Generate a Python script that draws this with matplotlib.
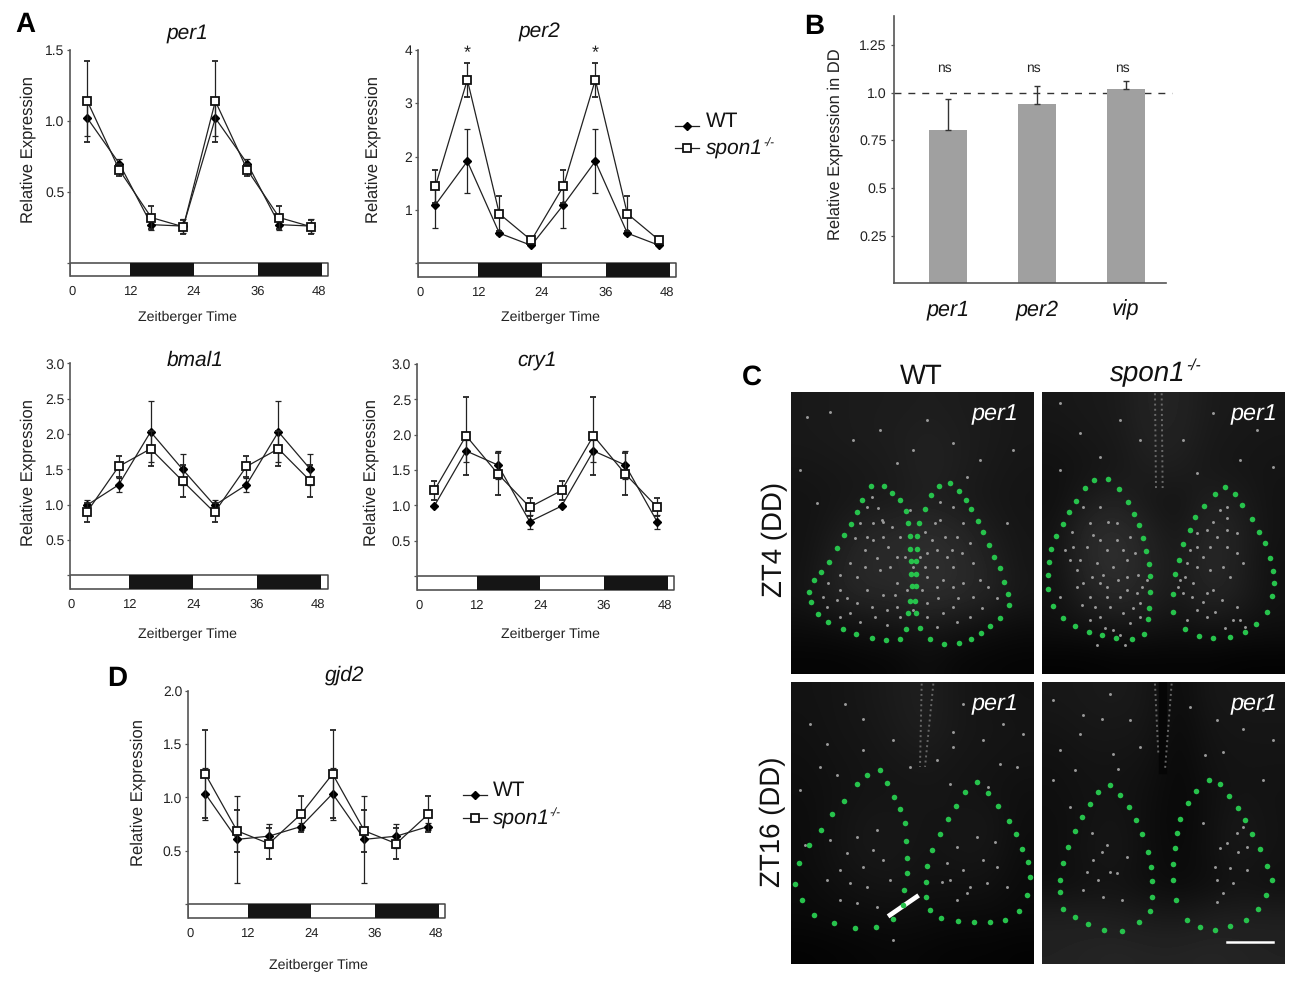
import matplotlib

matplotlib.use("Agg")
import matplotlib.pyplot as plt
from matplotlib.lines import Line2D

plt.rcParams["font.family"] = ["Liberation Sans", "DejaVu Sans"]
plt.rcParams["text.hinting"] = "no_hinting"

W, H = 1300, 984

# zeitgeber time of the samples (two plotted days)
ZT = [4, 10, 16, 22, 28, 34, 40, 46]
DARK_PERIODS = [12, 36]
DARK_LENGTH = 12
ZT_LABELS = ["0", "12", "24", "36", "48"]
ZT_LABEL_POS = [1.1, 12, 24, 36, 47.5]

PER1_WT = [1.02, 0.70, 0.27, 0.26, 1.02, 0.70, 0.27, 0.26]
PER1_WT_ERR = [0.125, 0.035, 0.04, 0.05, 0.125, 0.035, 0.04, 0.05]
PER1_KO = [1.14, 0.655, 0.32, 0.255, 1.14, 0.655, 0.32, 0.255]
PER1_KO_ERR = [0.285, 0.045, 0.08, 0.05, 0.285, 0.045, 0.08, 0.05]

PER2_WT = [1.09, 1.91, 0.56, 0.33, 1.09, 1.91, 0.56, 0.33]
PER2_WT_ERR = [0.43, 0.60, 0.03, 0.02, 0.43, 0.60, 0.03, 0.02]
PER2_KO = [1.44, 3.44, 0.925, 0.425, 1.44, 3.44, 0.925, 0.425]
PER2_KO_ERR = [0.31, 0.32, 0.33, 0.05, 0.31, 0.32, 0.33, 0.05]
PER2_STARS = [10, 34]

BMAL1_WT = [0.99, 1.28, 2.03, 1.50, 0.99, 1.28, 2.03, 1.50]
BMAL1_WT_ERR = [0.07, 0.10, 0.43, 0.22, 0.07, 0.10, 0.43, 0.22]
BMAL1_KO = [0.89, 1.54, 1.79, 1.335, 0.89, 1.54, 1.79, 1.335]
BMAL1_KO_ERR = [0.135, 0.15, 0.25, 0.22, 0.135, 0.15, 0.25, 0.22]

CRY1_WT = [0.99, 1.77, 1.57, 0.77, 0.99, 1.77, 1.57, 0.77]
CRY1_WT_ERR = [0.0, 0.15, 0.20, 0.10, 0.0, 0.15, 0.20, 0.10]
CRY1_KO = [1.21, 1.985, 1.445, 0.975, 1.21, 1.985, 1.445, 0.975]
CRY1_KO_ERR = [0.14, 0.55, 0.30, 0.125, 0.14, 0.55, 0.30, 0.125]

GJD2_WT = [1.035, 0.605, 0.635, 0.725, 1.035, 0.605, 0.635, 0.725]
GJD2_WT_ERR = [0.245, 0.41, 0.115, 0.03, 0.245, 0.41, 0.115, 0.03]
GJD2_KO = [1.22, 0.685, 0.565, 0.84, 1.22, 0.685, 0.565, 0.84]
GJD2_KO_ERR = [0.41, 0.20, 0.145, 0.17, 0.41, 0.20, 0.145, 0.17]

DD_GENES = ["per1", "per2", "vip"]
DD_VALUES = [0.806, 0.939, 1.017]
DD_ERR = [0.159, 0.096, 0.044]
DD_TICKS = [0.25, 0.5, 0.75, 1.0, 1.25]
DD_TICK_LABELS = ["0.25", "0.5", "0.75", "1.0", "1.25"]

# micrographs: coarse brightness, rows top to bottom
GRID_WT_ZT4 = [
    [32, 34, 36, 36, 38, 36, 34, 30],
    [32, 34, 36, 38, 42, 38, 34, 30],
    [28, 30, 32, 36, 44, 38, 32, 28],
    [24, 28, 32, 34, 40, 34, 30, 26],
    [24, 34, 48, 52, 58, 52, 36, 28],
    [24, 42, 54, 54, 60, 56, 44, 28],
    [26, 44, 50, 50, 60, 54, 46, 30],
    [16, 18, 24, 26, 30, 26, 20, 16],
    [6, 6, 8, 10, 18, 10, 8, 6],
]
GRID_KO_ZT4 = [
    [30, 32, 34, 46, 46, 34, 32, 30],
    [26, 30, 32, 44, 44, 32, 30, 28],
    [22, 26, 30, 38, 38, 30, 28, 26],
    [20, 36, 44, 30, 24, 42, 36, 24],
    [24, 54, 60, 44, 28, 52, 42, 24],
    [24, 52, 62, 46, 32, 54, 40, 22],
    [22, 44, 54, 44, 30, 48, 40, 22],
    [20, 22, 28, 26, 22, 26, 22, 20],
    [4, 4, 6, 6, 6, 6, 4, 4],
]
GRID_WT_ZT16 = [
    [24, 26, 30, 36, 40, 30, 26, 24],
    [22, 26, 28, 34, 40, 30, 28, 26],
    [20, 24, 26, 30, 32, 28, 26, 24],
    [18, 22, 26, 26, 28, 26, 24, 20],
    [16, 24, 30, 30, 26, 28, 30, 18],
    [16, 24, 30, 30, 24, 28, 28, 16],
    [14, 20, 24, 26, 22, 22, 22, 14],
    [12, 14, 16, 18, 16, 14, 14, 12],
    [4, 6, 8, 10, 8, 6, 6, 4],
]
GRID_KO_ZT16 = [
    [30, 32, 34, 30, 14, 30, 30, 30],
    [26, 30, 30, 28, 12, 26, 28, 28],
    [22, 26, 26, 24, 10, 24, 26, 26],
    [20, 24, 24, 20, 10, 20, 26, 24],
    [18, 24, 28, 18, 10, 20, 32, 24],
    [18, 26, 30, 18, 12, 20, 32, 24],
    [18, 22, 24, 18, 14, 18, 24, 20],
    [40, 40, 38, 34, 32, 38, 40, 40],
    [44, 46, 48, 46, 46, 48, 46, 44],
]

# green outline dots, in each image's own coordinates
DOTS_WT_ZT4 = [
    (392, 409), (431, 409), (457, 429), (479, 451), (497, 484), (505, 520), (509, 557), (511, 596),
    (514, 633), (514, 671), (515, 709), (510, 752), (503, 790), (499, 838), (480, 866), (438, 871),
    (395, 863), (347, 851), (308, 838), (265, 816), (235, 791), (213, 757), (207, 727), (221, 691),
    (243, 665), (267, 635), (292, 594), (312, 556), (332, 522), (352, 485), (367, 450),
    (598, 408), (631, 400), (656, 423), (679, 449), (694, 477), (714, 513), (729, 547), (747, 585),
    (763, 621), (780, 655), (793, 695), (805, 732), (806, 766), (780, 804), (751, 829), (724, 848),
    (692, 866), (656, 880), (613, 882), (571, 867), (541, 835), (529, 790), (526, 752), (527, 709),
    (528, 671), (529, 633), (530, 596), (531, 557), (536, 518), (555, 477), (572, 436),
]
DOTS_KO_ZT4 = [
    (163, 269), (204, 266), (236, 296), (263, 337), (281, 373), (297, 406), (309, 443), (319, 483),
    (327, 521), (331, 559), (330, 607), (327, 654), (325, 688), (313, 731), (275, 746), (229, 743),
    (187, 735), (148, 725), (106, 708), (70, 683), (40, 647), (25, 598), (25, 554), (26, 517),
    (33, 478), (47, 439), (68, 402), (88, 367), (109, 332), (134, 295),
    (555, 290), (585, 311), (607, 344), (635, 388), (658, 425), (675, 460), (690, 503), (700, 543),
    (701, 580), (695, 618), (682, 666), (648, 702), (615, 725), (570, 742), (520, 743), (478, 738),
    (434, 718), (399, 667), (400, 611), (406, 552), (417, 510), (430, 462), (449, 421), (466, 381),
    (491, 347), (524, 313),
]
DOTS_WT_ZT16 = [
    (352, 284), (391, 268), (412, 309), (432, 350), (451, 387), (466, 430), (469, 482), (471, 533),
    (471, 580), (462, 629), (458, 676), (429, 716), (378, 741), (314, 744), (253, 728), (193, 704),
    (156, 661), (135, 612), (148, 550), (178, 496), (212, 449), (247, 402), (281, 361), (320, 311),
    (681, 305), (713, 339), (743, 377), (776, 421), (799, 462), (817, 508), (834, 547), (841, 591),
    (831, 646), (807, 692), (766, 720), (719, 725), (671, 725), (625, 723), (574, 714), (540, 691),
    (528, 650), (527, 605), (530, 558), (547, 509), (569, 463), (593, 415), (619, 377), (646, 335),
]
DOTS_KO_ZT16 = [
    (239, 343), (203, 365), (180, 402), (157, 440), (136, 483), (114, 531), (100, 580), (91, 631),
    (90, 666), (100, 716), (135, 742), (174, 763), (222, 781), (276, 782), (327, 757), (360, 724),
    (366, 682), (366, 634), (362, 592), (353, 547), (335, 492), (319, 448), (296, 411), (270, 374),
    (536, 328), (570, 340), (598, 376), (623, 414), (645, 450), (666, 493), (689, 536), (711, 588),
    (727, 631), (708, 676), (684, 717), (648, 751), (601, 768), (555, 781), (511, 772), (471, 749),
    (439, 691), (430, 631), (430, 583), (435, 535), (440, 489), (451, 445), (475, 399), (498, 361),
]

# labelled cells picked out by eye, a sample of the brightest ones
SPECKS_WT_ZT4 = [
    (400, 520), (430, 515), (380, 560), (400, 570), (425, 510), (590, 600), (610, 690), (640, 650),
    (560, 610), (450, 650), (420, 660), (300, 720), (350, 760), (470, 770), (590, 710), (700, 740),
    (770, 745), (640, 770), (290, 750), (560, 760), (520, 650), (500, 720), (650, 560), (600, 510),
    (585, 520), (380, 470), (440, 780), (330, 790), (405, 800), (470, 700), (610, 790), (700, 640),
    (670, 700), (560, 680), (375, 600), (350, 680), (260, 770), (430, 560), (620, 620), (510, 480),
    (395, 440), (415, 475), (360, 520), (345, 565), (455, 530), (480, 560), (445, 590), (410, 625),
    (375, 650), (330, 640), (300, 675), (265, 700), (250, 740), (320, 745), (380, 720), (430, 735),
    (465, 735), (395, 770), (360, 815), (300, 800), (440, 825), (480, 800), (555, 545), (575, 570),
    (615, 560), (665, 610), (635, 600), (590, 650), (555, 650), (640, 710), (595, 745), (655, 745),
    (720, 690), (745, 710), (725, 775), (690, 800), (650, 815), (590, 830), (560, 800), (600, 455),
    (640, 470), (670, 520), (690, 580), (545, 720), (520, 780), (495, 620), (540, 620), (470, 620),
    (200, 200), (270, 185), (340, 270), (420, 240), (520, 300), (560, 210), (640, 280), (720, 330),
    (800, 520), (230, 460), (680, 380), (820, 300), (180, 360), (470, 340),
]
SPECKS_KO_ZT4 = [
    (160, 435), (180, 450), (140, 470), (200, 480), (230, 450), (120, 510), (170, 520), (220, 530),
    (260, 560), (290, 610), (300, 640), (210, 650), (240, 620), (150, 620), (130, 580), (180, 580),
    (100, 470), (250, 480), (270, 700), (220, 720), (180, 680), (300, 680), (110, 540), (200, 590),
    (560, 350), (540, 360), (560, 420), (530, 440), (470, 470), (490, 500), (440, 520), (420, 570),
    (430, 610), (490, 635), (520, 600), (460, 580), (550, 530), (590, 490), (600, 690), (500, 680),
    (180, 350), (130, 350), (205, 395), (150, 400), (95, 425), (230, 400), (270, 440), (285, 490),
    (260, 510), (235, 570), (190, 555), (155, 560), (110, 590), (90, 510), (75, 480), (60, 620),
    (125, 645), (165, 650), (200, 620), (260, 600), (280, 655), (250, 670), (150, 690), (195, 715),
    (240, 735), (170, 765), (255, 765), (305, 590), (295, 555), (320, 570),
    (520, 395), (560, 385), (500, 420), (470, 430), (450, 480), (510, 470), (560, 470), (590, 430),
    (610, 520), (570, 560), (510, 540), (470, 530), (435, 560), (415, 590), (455, 620), (500, 610),
    (545, 630), (470, 660), (440, 690), (525, 665), (590, 650), (615, 710), (580, 690), (555, 715),
    (60, 40), (120, 130), (240, 90), (300, 150), (430, 150), (520, 70), (650, 120), (700, 230),
    (180, 200), (60, 240), (600, 210), (470, 250),
]
SPECKS_WT_ZT16 = [
    (380, 450), (340, 560), (290, 520), (300, 610), (350, 620), (400, 540), (420, 600), (240, 480),
    (735, 485), (700, 540), (640, 570), (600, 600), (575, 605), (620, 500), (740, 560), (680, 470),
    (610, 155), (340, 115), (285, 70), (700, 180), (230, 190), (430, 780), (165, 495), (650, 640),
    (180, 130), (150, 330), (260, 285), (340, 210), (430, 180), (610, 200), (640, 70), (760, 130),
    (800, 260), (600, 310), (560, 240), (715, 320), (370, 510), (320, 470), (270, 570), (230, 600),
    (380, 680), (320, 670), (270, 660), (590, 550), (660, 620), (710, 610), (770, 620), (620, 660),
    (750, 250), (820, 160), (480, 260), (210, 260),
]
SPECKS_KO_ZT16 = [
    (215, 545), (240, 605), (170, 605), (185, 490), (160, 135), (215, 145), (90, 240), (135, 300),
    (570, 535), (625, 545), (650, 530), (600, 595), (580, 670), (560, 695), (640, 175), (730, 210),
    (580, 245), (525, 255), (250, 250), (265, 295), (230, 525), (205, 630), (620, 490), (150, 190),
    (70, 90), (240, 70), (300, 150), (330, 230), (480, 110), (560, 150), (700, 120), (640, 90),
    (190, 570), (260, 610), (160, 660), (220, 680), (290, 560), (120, 410), (70, 330), (555, 590),
    (610, 640), (650, 600), (560, 630), (590, 520), (640, 470), (700, 330), (520, 460), (275, 690),
]
SCALE_BAR_X = [592, 730]
SCALE_BAR_Y = [817, 817]


def fx(x):
    return x / W


def fy(y):
    return 1 - y / H


def add_px_axes(fig, left, right, top, bottom):
    return fig.add_axes([fx(left), fy(bottom), fx(right - left), (bottom - top) / H])


def ko_label(fig, x, y, size):
    """spon1 with its small -/- superscript, x is the left end of the word"""
    fig.text(fx(x), fy(y), "spon1", style="italic", fontsize=size, ha="left", va="center", color="#111111")
    fig.text(fx(x + size * 3.8), fy(y - size * 0.42), "-/-", style="italic", fontsize=size * 0.56, ha="left",
             va="center", color="#111111")


def time_panel(fig, title, box, wt, wt_err, ko, ko_err, yticks, ylabels, text_pos):
    """One double plotted expression panel with the light/dark bar under it."""
    left, right, x12, x48, ytop, y0, bar_bottom, ymax = box
    ax = add_px_axes(fig, left, right, ytop, bar_bottom)
    sx = (x48 - x12) / 36
    x0 = x12 - 12 * sx
    sy = (y0 - ytop) / ymax
    ax.set_xlim((left - x0) / sx, (right - x0) / sx)
    ax.set_ylim(-(bar_bottom - y0) / sy, ymax)
    xl, xr = ax.get_xlim()
    ybar = ax.get_ylim()[0]

    ax.broken_barh([(xl, xr - xl)], (ybar, -ybar), facecolor="white", edgecolor="#444444", lw=1.1, zorder=2)
    ax.broken_barh([(d, DARK_LENGTH) for d in DARK_PERIODS], (ybar, -ybar), facecolor="#151515", zorder=3)

    ax.errorbar(ZT, wt, yerr=wt_err, color="#222222", lw=0.9, elinewidth=0.9, capsize=2.2, capthick=0.9,
                marker="D", ms=4.2, mfc="black", mec="black", zorder=4)
    ax.errorbar(ZT, ko, yerr=ko_err, color="#222222", lw=0.9, elinewidth=0.9, capsize=2.2, capthick=0.9,
                marker="s", ms=5.2, mfc="white", mec="#111111", mew=1.3, zorder=5)

    for side in ["top", "right", "bottom"]:
        ax.spines[side].set_visible(False)
    ax.spines["left"].set_color("#555555")
    ax.spines["left"].set_linewidth(1.2)
    ax.set_yticks([0] + yticks)
    ax.set_yticklabels([""] + ylabels, fontsize=10, color="#222222")
    ax.tick_params(axis="y", length=2.5, width=0.9, color="#555555", pad=1.5)
    ax.set_xticks(ZT_LABEL_POS)
    ax.set_xticklabels(ZT_LABELS, fontsize=9.4, color="#222222")
    ax.tick_params(axis="x", length=0, pad=7)

    tx, ty, yl_x, yl_y, xl_x, xl_y = text_pos
    fig.text(fx(tx), fy(ty), title, style="italic", fontsize=15, ha="center", va="center", color="#111111")
    fig.text(fx(yl_x + 2.5), fy(yl_y), "Relative Expression", rotation=90, fontsize=12, ha="center", va="center",
             color="#222222")
    fig.text(fx(xl_x), fy(xl_y + 2), "Zeitberger Time", fontsize=10.2, ha="center", va="center", color="#222222")
    return ax


def legend_px(fig, x_line, x_text, y_wt, y_ko):
    fig.add_artist(Line2D([fx(x_line), fx(x_line + 24)], [fy(y_wt), fy(y_wt)], color="#222222", lw=0.9))
    fig.add_artist(Line2D([fx(x_line + 12)], [fy(y_wt)], marker="D", ms=4.2, mfc="black", mec="black", ls="none"))
    fig.add_artist(Line2D([fx(x_line), fx(x_line + 24)], [fy(y_ko), fy(y_ko)], color="#222222", lw=0.9))
    fig.add_artist(Line2D([fx(x_line + 12)], [fy(y_ko)], marker="s", ms=5.2, mfc="white", mec="#111111",
                          mew=1.3, ls="none"))
    fig.text(fx(x_text), fy(y_wt - 4), "WT", fontsize=15, ha="left", va="center", color="#111111")
    ko_label(fig, x_text, y_ko + 1, 15)


def bar_panel(fig):
    left, right, top, bottom = 894.3, 1166, 16, 283.3
    ax = add_px_axes(fig, left, right, top, bottom)
    xpos = list(range(len(DD_GENES)))
    ax.set_xlim((left - 948) / 89, (right - 948) / 89)
    ax.set_ylim(0, (bottom - top) / 190.7)
    ax.plot([ax.get_xlim()[0], 2.52], [1, 1], ls=(0, (5, 5)), lw=1, color="#333333", clip_on=False, zorder=1)
    ax.bar(xpos, DD_VALUES, width=0.42, color="#a0a0a0", zorder=2)
    ax.errorbar(xpos, DD_VALUES, yerr=[[0, 0, 0], DD_ERR], fmt="none", ecolor="#333333", elinewidth=1,
                capsize=2.2, capthick=1, zorder=3)
    for i in xpos:
        ax.text(i - 0.04, 1.128, "ns", fontsize=10, ha="center", va="center", color="#222222")
    for side in ["top", "right"]:
        ax.spines[side].set_visible(False)
    for side in ["left", "bottom"]:
        ax.spines[side].set_color("#555555")
        ax.spines[side].set_linewidth(1.2)
    ax.set_yticks(DD_TICKS)
    ax.set_yticklabels(DD_TICK_LABELS, fontsize=10.2, color="#222222")
    ax.tick_params(axis="y", length=2.5, width=0.9, color="#555555", pad=3)
    ax.set_xticks(xpos)
    ax.set_xticklabels(DD_GENES, fontsize=15.5, style="italic", color="#111111")
    ax.tick_params(axis="x", length=0, pad=12)
    fig.text(fx(835.5), fy(144), "Relative Expression in DD", rotation=90, fontsize=11.9, ha="center", va="center",
             color="#222222")


def micrograph(fig, box, limits, grid, dots, specks, label_x):
    ax = add_px_axes(fig, *box)
    xl, xr, yb, yt = limits
    ax.imshow(grid, extent=(xl, xr, yb, yt), cmap="gray", vmin=0, vmax=330, interpolation="bicubic", aspect="auto")
    ax.set_xlim(xl, xr)
    ax.set_ylim(yb, yt)
    ax.axis("off")
    ax.scatter(*zip(*specks), s=4.5, color="#9a9a9a", linewidths=0, zorder=2)
    ax.scatter(*zip(*dots), s=16, color="#27c24c", linewidths=0, zorder=3)
    ax.text(xl + (xr - xl) * label_x, yt + (yb - yt) * 0.08, "per1", color="white", style="italic", fontsize=16.8,
            ha="center", va="center", zorder=4)
    return ax


def main():
    fig = plt.figure(figsize=(W / 100, H / 100), dpi=100, facecolor="white")

    time_panel(fig, "per1", (70, 328, 130, 322, 50, 263, 276, 1.5),
               PER1_WT, PER1_WT_ERR, PER1_KO, PER1_KO_ERR, [0.5, 1.0, 1.5], ["0.5", "1.0", "1.5"],
               (187.5, 33, 26, 150, 187.5, 315))
    ax_per2 = time_panel(fig, "per2", (418, 676, 478, 670, 50, 263, 277, 4),
                         PER2_WT, PER2_WT_ERR, PER2_KO, PER2_KO_ERR, [1, 2, 3, 4], ["1", "2", "3", "4"],
                         (539, 32, 371, 150, 550, 315))
    for star in PER2_STARS:
        ax_per2.text(star, 3.93, "*", fontsize=13, ha="center", va="center", color="#222222")
    half_ticks = [0.5, 1.0, 1.5, 2.0, 2.5, 3.0]
    half_labels = ["0.5", "1.0", "1.5", "2.0", "2.5", "3.0"]
    time_panel(fig, "bmal1", (70, 327.7, 129.3, 321, 363.3, 575.3, 589, 3),
               BMAL1_WT, BMAL1_WT_ERR, BMAL1_KO, BMAL1_KO_ERR, half_ticks, half_labels,
               (195, 360, 26, 473, 187.5, 632.7))
    time_panel(fig, "cry1", (416.7, 674.3, 476.7, 667.7, 364, 576, 590, 3),
               CRY1_WT, CRY1_WT_ERR, CRY1_KO, CRY1_KO_ERR, half_ticks, half_labels,
               (537.5, 360, 369, 473, 550, 632.7))
    time_panel(fig, "gjd2", (187.7, 445.3, 247.7, 438.7, 691, 903.7, 917.7, 2),
               GJD2_WT, GJD2_WT_ERR, GJD2_KO, GJD2_KO_ERR, [0.5, 1.0, 1.5, 2.0], ["0.5", "1.0", "1.5", "2.0"],
               (344.7, 675, 136, 793, 318, 963))

    legend_px(fig, 675, 706, 125.7, 147.7)
    legend_px(fig, 462.7, 492.7, 794.7, 817.7)

    bar_panel(fig)

    micrograph(fig, (790.7, 1033.3, 391.7, 674), (152, 880, 972, 125), GRID_WT_ZT4, DOTS_WT_ZT4, SPECKS_WT_ZT4, 0.842)
    ax_ko4 = micrograph(fig, (1042, 1285, 392, 674), (6, 735, 852, 6), GRID_KO_ZT4, DOTS_KO_ZT4, SPECKS_KO_ZT4, 0.872)
    ax_ko4.plot([345, 348], [10, 300], color="#6a6a6a", lw=1.4, ls=":")
    ax_ko4.plot([365, 368], [10, 300], color="#6a6a6a", lw=1.4, ls=":")

    ax_wt16 = micrograph(fig, (790.7, 1033, 682, 964), (122, 849, 852, 5), GRID_WT_ZT16, DOTS_WT_ZT16,
                         SPECKS_WT_ZT16, 0.842)
    ax_wt16.plot([515, 510], [10, 260], color="#666666", lw=1.4, ls=":")
    ax_wt16.plot([550, 525], [10, 260], color="#666666", lw=1.4, ls=":")
    ax_wt16.plot([420, 500], [705, 650], color="white", lw=3.4, zorder=2.5)

    ax_ko16 = micrograph(fig, (1042.3, 1285, 682, 964), (37, 765, 882, 35), GRID_KO_ZT16, DOTS_KO_ZT16,
                         SPECKS_KO_ZT16, 0.872)
    ax_ko16.plot([400, 400], [35, 300], color="#060606", lw=6, zorder=1.5)
    ax_ko16.plot([375, 385], [40, 250], color="#666666", lw=1.4, ls=":")
    ax_ko16.plot([425, 405], [40, 300], color="#666666", lw=1.4, ls=":")
    ax_ko16.plot(SCALE_BAR_X, SCALE_BAR_Y, color="white", lw=1.8, zorder=5)

    fig.text(fx(921.7), fy(377), "WT", fontsize=19.8, ha="center", va="center", color="#111111")
    ko_label(fig, 1110, 374, 20)
    fig.text(fx(774.5), fy(539), "ZT4 (DD)", fontsize=19.9, rotation=90, ha="center", va="center", color="#111111")
    fig.text(fx(773), fy(822), "ZT16 (DD)", fontsize=19.9, rotation=90, ha="center", va="center", color="#111111")

    for letter, x, y in [("A", 25, 25), ("B", 814, 27), ("C", 752, 377), ("D", 117, 679)]:
        fig.text(fx(x), fy(y), letter, fontsize=20, weight="bold", ha="center", va="center", color="black")

    fig.savefig("out.png", dpi=100)


if __name__ == "__main__":
    main()
